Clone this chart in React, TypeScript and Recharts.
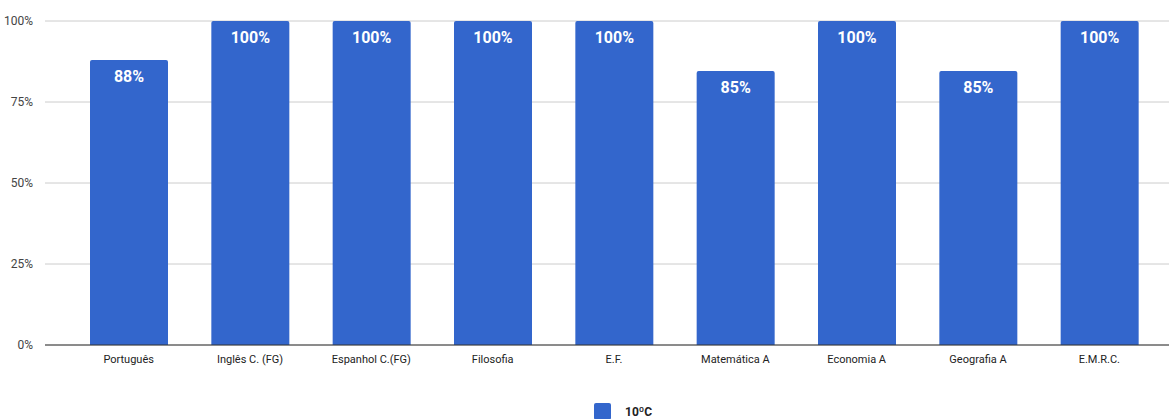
import { BarChart, Bar, XAxis, YAxis, CartesianGrid, LabelList, Cell } from "recharts";

const categories = [
  "Português",
  "Inglês C. (FG)",
  "Espanhol C.(FG)",
  "Filosofia",
  "E.F.",
  "Matemática A",
  "Economia A",
  "Geografia A",
  "E.M.R.C.",
];

const values = [88, 100, 100, 100, 100, 84.6, 100, 84.6, 100];
const labels = ["88%", "100%", "100%", "100%", "100%", "85%", "100%", "85%", "100%"];

const seriesName = "10ºC";
const yTicks = [0, 25, 50, 75, 100];

const BLUE = "#3366cc";

const data = categories.map((c, i) => ({ name: c, value: values[i], label: labels[i] }));

export default function App() {
  return (
    <div style={{ position: "absolute", left: 0, top: 0, width: 1169, height: 419, background: "#fff", fontFamily: "Roboto, Arial, sans-serif" }}>
      <BarChart
        width={1169}
        height={419}
        data={data}
        margin={{ top: 21, right: 0, bottom: 44, left: 0 }}
        barCategoryGap={0}
      >
        <CartesianGrid vertical={false} stroke="#cccccc" />
        <XAxis
          dataKey="name"
          height={30}
          padding={{ left: 23, right: 9 }}
          tickLine={false}
          axisLine={{ stroke: "#333333" }}
          tick={{ fill: "#222222", fontSize: 11 }}
          tickMargin={4}
          interval={0}
        />
        <YAxis
          width={45}
          domain={[0, 100]}
          ticks={yTicks}
          tickFormatter={(v) => `${v}%`}
          axisLine={false}
          tickLine={false}
          tick={{ fill: "#444444", fontSize: 12 }}
          tickMargin={6}
        />
        <Bar dataKey="value" fill={BLUE} barSize={78} radius={[2, 2, 0, 0]} isAnimationActive={false}>
          {data.map((_, i) => (
            <Cell key={i} fill={BLUE} />
          ))}
          <LabelList
            dataKey="label"
            position="insideTop"
            offset={11}
            fill="#ffffff"
            style={{ fontSize: 16, fontWeight: 700 }}
          />
        </Bar>
      </BarChart>
      {/* legend */}
      <div style={{ position: "absolute", top: 403, left: 594, display: "flex", alignItems: "center", gap: 14 }}>
        <span style={{ width: 17, height: 17, background: BLUE, borderRadius: 2 }} />
        <span style={{ fontSize: 12, fontWeight: 700, color: "#222" }}>{seriesName}</span>
      </div>
    </div>
  );
}
